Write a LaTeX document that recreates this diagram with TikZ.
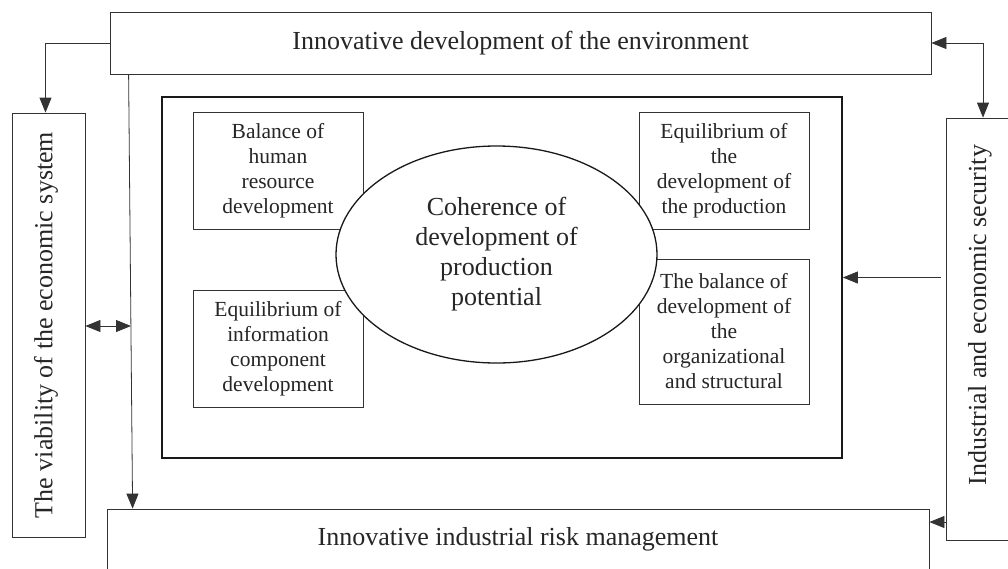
\documentclass[tikz,border=0pt]{standalone}
\usepackage{fontspec}
\setmainfont{Liberation Serif}
\usetikzlibrary{shapes.geometric,arrows.meta,calc}
\begin{document}
\begin{tikzpicture}[x=1pt,y=-1pt,
  thin line/.style={draw=black!80,line width=0.8pt},
  bigtext/.style={font=\fontsize{26}{30}\selectfont,text=black!85},
  smalltext/.style={font=\fontsize{21.5}{25}\selectfont,text=black!85},
  outerbox/.style={thin line,rectangle,inner sep=0pt,bigtext},
  innerbox/.style={thin line,rectangle,inner sep=0pt,smalltext,minimum width=170pt,minimum height=117pt,align=center},
  arr/.style={thin line,-{Triangle[length=15pt,width=12pt]}},
  darr/.style={thin line,{Triangle[length=15pt,width=12pt]}-{Triangle[length=15pt,width=12pt]}}]
\useasboundingbox (0,0) rectangle (1008,568);
\fill[white] (0,0) rectangle (1008,568);
% outer boxes
\node[outerbox,minimum width=821pt,minimum height=62pt] (top) at (520.5,43) {Innovative development of the environment};
\node[outerbox,minimum width=822pt,minimum height=60pt] (bottom) at (518,539) {Innovative industrial risk management};
\node[outerbox,minimum width=73pt,minimum height=424pt] (left) at (48.5,325) {};
\node[bigtext,rotate=90] (lefttext) at (46,325) {The viability of the economic system};
\node[outerbox,minimum width=68pt,minimum height=422pt] (right) at (980,329) {};
\node[bigtext,rotate=90] (righttext) at (980,315) {Industrial and economic security};
% main box
\node[draw=black!90,line width=1.7pt,rectangle,minimum width=680pt,minimum height=361pt,inner sep=0pt] (main) at (502,277.5) {};
\node[innerbox] (b1) at (278,170.5) {Balance of\\human\\resource\\development};
\node[innerbox] (b2) at (278,348.5) {Equilibrium of\\information\\component\\development};
\node[innerbox] (b3) at (724,170.5) {Equilibrium of\\the\\development of\\the production};
\node[innerbox,minimum height=145pt] (b4) at (724,331.5) {The balance of\\development of\\the\\organizational\\and structural};
\node[ellipse,draw=black!90,line width=1.3pt,fill=white,minimum width=321pt,minimum height=217pt,inner sep=0pt,align=center,bigtext] (ell) at (496.5,254.5) {Coherence of\\development of\\production\\potential};
% connectors
\coordinate (vm) at (131,326);
\coordinate (ry1) at (0,277.5);
\coordinate (ry2) at (0,522);
\draw[arr] (top.west) -| ($(left.north)+(-3,0)$);
\draw[darr] (top.east) -| ($(right.north)+(3,0)$);
\draw[arr] ($(top.south west)+(19,0)$) -- ($(bottom.north west)+(26,0)$);
\draw[darr] (left.east |- vm) -- (vm);
\draw[arr] ($(right.west |- ry1)+(-5,0)$) -- (main.east |- ry1);
\draw[arr] (right.west |- ry2) -- (bottom.east |- ry2);
\end{tikzpicture}
\end{document}
